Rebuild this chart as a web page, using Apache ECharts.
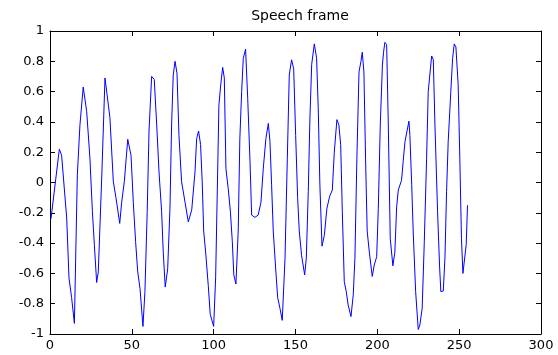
<!DOCTYPE html>
<html>
<head>
<meta charset="utf-8">
<script src="https://cdn.jsdelivr.net/npm/echarts@6/dist/echarts.min.js"></script>
<style>html,body{margin:0;padding:0;background:#fff}#c{width:558px;height:355px}</style>
</head>
<body>
<div id="c"></div>
<script>
var titleText = "Speech frame";
var xTicks = [0, 50, 100, 150, 200, 250, 300];
var yTicks = [-1, -0.8, -0.6, -0.4, -0.2, 0, 0.2, 0.4, 0.6, 0.8, 1];
// sample index positions
var sampleX = [0.6,5.7,7.1,10.2,11.6,13.2,14.9,16.7,18.3,20.3,22.4,24.4,25.9,27.1,28.5,29.5,31.6,33.6,34.6,36.6,38.7,40.3,42.6,43.8,45.4,47.5,49.5,50.9,52.3,53.6,55,56.8,58,59.4,60.5,62.1,63.7,65.2,66.6,68.2,69.2,70.4,71.9,73.3,74.3,75.3,76.4,77.6,78.8,80.4,82.5,84.5,86.6,88.6,89.6,90.8,92,93,93.9,95.1,96.7,97.9,100,101.2,102.4,103.2,104.4,105.5,106.5,107.5,108.9,110.2,111.4,112.3,113.6,115,116,117.1,118.1,119.5,120.8,122.2,123.2,125.2,127.2,128.9,130.3,131.9,133.4,134.4,135.4,136.4,137.9,139.1,140.5,141.9,143.6,145,146.2,147.6,148.9,150.1,151.3,152.3,153.7,155.6,156.6,157.8,158.8,159.9,161.5,162.9,163.9,164.9,166.2,167.6,169.2,170.9,172.5,173.7,175.3,176.5,177.6,178.6,179.8,181,182.2,183.9,185.3,186.3,187.5,188.8,190,190.8,191.8,192.8,193.8,195.1,196.9,198.1,199.6,200.6,201.8,203.1,203.8,204.6,205.7,206.7,207.9,209.5,210.7,211.8,212.8,214.8,215.8,216.9,219.3,219.9,221,221.9,223.4,225,226,227.4,228.7,230.1,231.1,233.2,234.2,235.2,236.8,238,238.8,240.3,241.3,242.3,243.3,244.9,246,247,248,249.4,250.4,251.4,252.3,253.5,254.3,255.1];
// amplitude values
var sampleY = [-0.24,0.22,0.18,-0.235,-0.63,-0.76,-0.93,0.05,0.38,0.63,0.47,0.16,-0.19,-0.41,-0.66,-0.59,0.03,0.69,0.68,0.43,0.005,-0.10,-0.27,-0.13,0.005,0.285,0.18,-0.13,-0.39,-0.59,-0.70,-0.95,-0.72,-0.19,0.34,0.70,0.68,0.38,0.07,-0.19,-0.46,-0.69,-0.57,-0.17,0.38,0.71,0.80,0.72,0.31,0.005,-0.13,-0.26,-0.18,0.07,0.29,0.34,0.25,0.005,-0.32,-0.46,-0.68,-0.87,-0.95,-0.63,0.05,0.51,0.655,0.76,0.69,0.09,-0.04,-0.19,-0.39,-0.61,-0.67,-0.32,0.29,0.6,0.82,0.88,0.555,0.14,-0.215,-0.23,-0.215,-0.13,0.09,0.29,0.39,0.27,-0.015,-0.32,-0.57,-0.76,-0.83,-0.91,-0.5,0.16,0.71,0.81,0.75,0.31,-0.10,-0.32,-0.48,-0.61,-0.50,-0.06,0.42,0.78,0.915,0.82,0.49,-0.015,-0.42,-0.35,-0.17,-0.09,-0.05,0.2,0.415,0.38,0.25,-0.19,-0.655,-0.72,-0.81,-0.885,-0.74,-0.5,0.16,0.73,0.80,0.86,0.73,0.16,-0.32,-0.46,-0.62,-0.545,-0.49,-0.17,0.38,0.775,0.86,0.925,0.91,0.38,-0.37,-0.55,-0.46,-0.16,-0.05,0.015,0.14,0.27,0.405,0.31,-0.015,-0.32,-0.72,-0.97,-0.94,-0.83,-0.39,0.16,0.6,0.835,0.81,0.38,-0.19,-0.545,-0.72,-0.716,-0.5,-0.06,0.27,0.6,0.82,0.915,0.895,0.645,0.16,-0.37,-0.6,-0.6,-0.41,-0.15];

var pts = sampleX.map(function(x, i){ return [x, sampleY[i]]; });
var font = "'DejaVu Sans', 'Liberation Sans', Arial, sans-serif";
var chart = echarts.init(document.getElementById('c'), null, {renderer: 'canvas'});
var axisLine = {show: true, onZero: false, lineStyle: {color: '#000', width: 1}};
var tickIn = {show: true, inside: true, length: 5, lineStyle: {color: '#000'}};
chart.setOption({
  backgroundColor: '#fff',
  animation: false,
  title: {text: titleText, left: 295, top: 4, textAlign: 'center',
    textStyle: {fontFamily: font, fontSize: 14, fontWeight: 'normal', color: '#000'}},
  grid: {left: 50, right: 17, top: 31, bottom: 21, containLabel: false},
  xAxis: [
    {type: 'value', min: xTicks[0], max: xTicks[xTicks.length-1], interval: 50,
     axisLine: axisLine, axisTick: tickIn, splitLine: {show: false},
     axisLabel: {fontFamily: font, fontSize: 13, color: '#000', margin: 5}},
    {type: 'value', position: 'top', min: xTicks[0], max: xTicks[xTicks.length-1], interval: 50,
     axisLine: axisLine, axisTick: tickIn, splitLine: {show: false}, axisLabel: {show: false}}
  ],
  yAxis: [
    {type: 'value', min: yTicks[0], max: yTicks[yTicks.length-1], interval: 0.2,
     axisLine: axisLine, axisTick: tickIn, splitLine: {show: false},
     axisLabel: {fontFamily: font, fontSize: 13, color: '#000', margin: 6,
       formatter: function(v){ return String(+v.toFixed(1)); }}},
    {type: 'value', position: 'right', min: yTicks[0], max: yTicks[yTicks.length-1], interval: 0.2,
     axisLine: axisLine, axisTick: tickIn, splitLine: {show: false}, axisLabel: {show: false}}
  ],
  series: [{
    type: 'line', data: pts, showSymbol: false, symbol: 'none',
    lineStyle: {color: '#0000ff', width: 1}, xAxisIndex: 0, yAxisIndex: 0
  }]
});
</script>
</body>
</html>
